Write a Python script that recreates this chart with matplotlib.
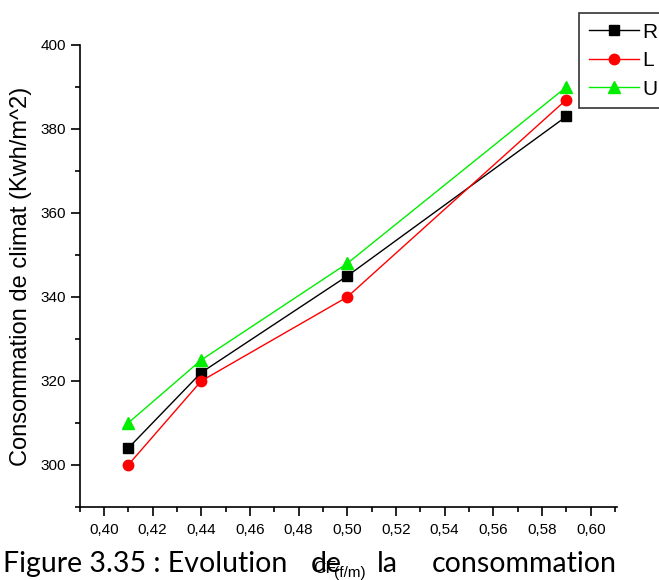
import matplotlib
matplotlib.use("Agg")
import matplotlib.pyplot as plt
from matplotlib.ticker import MultipleLocator, FuncFormatter

cf = [0.41, 0.44, 0.50, 0.59]
conso_R = [304, 322, 345, 383]
conso_L = [300, 320, 340, 387]
conso_U = [310, 325, 348, 390]

series_labels = ["R", "L", "U"]
y_label = "Consommation de climat (Kwh/m^2)"

plt.rcParams["font.family"] = ["Liberation Sans", "DejaVu Sans"]

W, H = 659, 580
fig = plt.figure(figsize=(W / 100, H / 100), dpi=100)
x0, x1, y0, y1 = 79.5, 617.5, 45, 507
ax = fig.add_axes([x0 / W, 1 - y1 / H, (x1 - x0) / W, (y1 - y0) / H])

ax.plot(cf, conso_R, color="black", lw=1, marker="s", ms=7, label=series_labels[0])
ax.plot(cf, conso_L, color="red", lw=1, marker="o", ms=7.5, label=series_labels[1])
ax.plot(cf, conso_U, color="#00ee00", lw=1, marker="^", ms=8, label=series_labels[2])

ax.set_xlim(0.39, 0.611)
ax.set_ylim(290, 400)
ax.xaxis.set_major_locator(MultipleLocator(0.02))
ax.xaxis.set_minor_locator(MultipleLocator(0.01))
ax.yaxis.set_major_locator(MultipleLocator(20))
ax.yaxis.set_minor_locator(MultipleLocator(10))
ax.xaxis.set_major_formatter(FuncFormatter(lambda v, p: f"{v:.2f}".replace(".", ",")))
ax.yaxis.set_major_formatter(FuncFormatter(lambda v, p: f"{v:.0f}"))

for side in ("top", "right"):
    ax.spines[side].set_visible(False)
for side in ("left", "bottom"):
    ax.spines[side].set_linewidth(1.2)
ax.tick_params(which="major", direction="out", length=6.5, width=1.2, labelsize=11)
ax.tick_params(which="minor", direction="out", length=3.5, width=1.2)
ax.tick_params(axis="x", pad=5)
ax.tick_params(axis="y", pad=3)

ax.set_ylabel(y_label, fontsize=17, labelpad=6)

leg = fig.legend(loc="upper left", bbox_to_anchor=(579 / W, 1 - 13 / H),
                 frameon=True, fancybox=False, edgecolor="black", fontsize=15,
                 handlelength=2.4, handletextpad=0.2, borderpad=0.46,
                 labelspacing=0.46, borderaxespad=0)
leg.get_frame().set_linewidth(1.2)

# caption line below the chart
cap_font = dict(family=["Lato", "DejaVu Sans"], fontsize=20.5, color="black", va="baseline")
fig.text(3 / W, 1 - 572 / H, "Figure 3.35 : Evolution", **cap_font)
fig.text(311 / W, 1 - 572 / H, "de", **cap_font)
fig.text(377 / W, 1 - 572 / H, "la", **cap_font)
fig.text(432 / W, 1 - 572 / H, "consommation", **cap_font)

# x-axis title with subscripted unit
fig.text(313 / W, 1 - 573 / H, "CF", fontsize=12.5, va="baseline")
fig.text(334 / W, 1 - 577 / H, "(f/m)", fontsize=11, va="baseline")

fig.savefig("out.png", dpi=100)
